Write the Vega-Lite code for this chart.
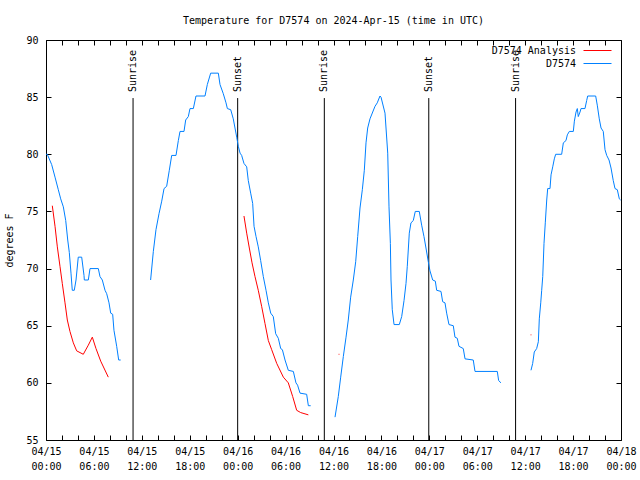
{
  "$schema": "https://vega.github.io/schema/vega-lite/v6.json",
  "width": 575,
  "height": 400,
  "autosize": {"type": "none"},
  "padding": {"left": 46, "top": 40, "right": 19, "bottom": 40},
  "background": "white",
  "title": {"text": "Temperature for D7574 on 2024-Apr-15 (time in UTC)", "font": "DejaVu Sans Mono", "fontSize": 10, "fontWeight": "normal", "color": "black", "baseline": "alphabetic", "offset": 1, "anchor": "middle"},
  "config": {
    "view": {"stroke": "black", "strokeWidth": 1},
    "axis": {"grid": false, "domain": false, "tickColor": "black", "labelColor": "black", "labelFont": "DejaVu Sans Mono", "labelFontSize": 10, "titleFont": "DejaVu Sans Mono", "titleFontSize": 10, "titleFontWeight": "normal", "titleColor": "black", "labelFlush": false, "labelOverlap": false},
    "text": {"font": "DejaVu Sans Mono"}
  },
  "datasets": {
    "sun": [
      {"hour": 10.9, "label": "Sunrise"},
      {"hour": 24.0, "label": "Sunset"},
      {"hour": 34.85, "label": "Sunrise"},
      {"hour": 47.93, "label": "Sunset"},
      {"hour": 58.8, "label": "Sunrise"}
    ],
    "temps": [
      {"series": "D7574", "seg": "b1", "hour": 0, "temp": 80.0},
      {"series": "D7574", "seg": "b1", "hour": 0.16, "temp": 80.0},
      {"series": "D7574", "seg": "b1", "hour": 0.71, "temp": 79.1},
      {"series": "D7574", "seg": "b1", "hour": 1.13, "temp": 78.0},
      {"series": "D7574", "seg": "b1", "hour": 1.54, "temp": 76.9},
      {"series": "D7574", "seg": "b1", "hour": 1.84, "temp": 76.1},
      {"series": "D7574", "seg": "b1", "hour": 2.17, "temp": 75.4},
      {"series": "D7574", "seg": "b1", "hour": 2.47, "temp": 74.2},
      {"series": "D7574", "seg": "b1", "hour": 2.72, "temp": 72.5},
      {"series": "D7574", "seg": "b1", "hour": 2.92, "temp": 71.4},
      {"series": "D7574", "seg": "b1", "hour": 3.13, "temp": 69.6},
      {"series": "D7574", "seg": "b1", "hour": 3.29, "temp": 68.1},
      {"series": "D7574", "seg": "b1", "hour": 3.54, "temp": 68.1},
      {"series": "D7574", "seg": "b1", "hour": 3.76, "temp": 69.0},
      {"series": "D7574", "seg": "b1", "hour": 4.04, "temp": 71.0},
      {"series": "D7574", "seg": "b1", "hour": 4.47, "temp": 71.0},
      {"series": "D7574", "seg": "b1", "hour": 4.76, "temp": 69.4},
      {"series": "D7574", "seg": "b1", "hour": 4.8, "temp": 69.0},
      {"series": "D7574", "seg": "b1", "hour": 5.3, "temp": 69.0},
      {"series": "D7574", "seg": "b1", "hour": 5.51, "temp": 70.0},
      {"series": "D7574", "seg": "b1", "hour": 6.55, "temp": 70.0},
      {"series": "D7574", "seg": "b1", "hour": 6.76, "temp": 69.3},
      {"series": "D7574", "seg": "b1", "hour": 7.05, "temp": 69.0},
      {"series": "D7574", "seg": "b1", "hour": 7.39, "temp": 68.1},
      {"series": "D7574", "seg": "b1", "hour": 7.6, "temp": 67.8},
      {"series": "D7574", "seg": "b1", "hour": 7.89, "temp": 67.0},
      {"series": "D7574", "seg": "b1", "hour": 8.1, "temp": 66.1},
      {"series": "D7574", "seg": "b1", "hour": 8.35, "temp": 66.0},
      {"series": "D7574", "seg": "b1", "hour": 8.51, "temp": 64.6},
      {"series": "D7574", "seg": "b1", "hour": 8.85, "temp": 63.2},
      {"series": "D7574", "seg": "b1", "hour": 9.1, "temp": 62.0},
      {"series": "D7574", "seg": "b1", "hour": 9.35, "temp": 62.0},

      {"series": "D7574 Analysis", "seg": "r1", "hour": 0.79, "temp": 75.5},
      {"series": "D7574 Analysis", "seg": "r1", "hour": 1.13, "temp": 73.7},
      {"series": "D7574 Analysis", "seg": "r1", "hour": 1.42, "temp": 71.9},
      {"series": "D7574 Analysis", "seg": "r1", "hour": 1.75, "temp": 70.2},
      {"series": "D7574 Analysis", "seg": "r1", "hour": 2.04, "temp": 68.7},
      {"series": "D7574 Analysis", "seg": "r1", "hour": 2.38, "temp": 67.0},
      {"series": "D7574 Analysis", "seg": "r1", "hour": 2.67, "temp": 65.5},
      {"series": "D7574 Analysis", "seg": "r1", "hour": 3.0, "temp": 64.5},
      {"series": "D7574 Analysis", "seg": "r1", "hour": 3.42, "temp": 63.5},
      {"series": "D7574 Analysis", "seg": "r1", "hour": 3.84, "temp": 62.8},
      {"series": "D7574 Analysis", "seg": "r1", "hour": 4.67, "temp": 62.5},
      {"series": "D7574 Analysis", "seg": "r1", "hour": 5.3, "temp": 63.3},
      {"series": "D7574 Analysis", "seg": "r1", "hour": 5.8, "temp": 64.0},
      {"series": "D7574 Analysis", "seg": "r1", "hour": 6.26, "temp": 63.0},
      {"series": "D7574 Analysis", "seg": "r1", "hour": 6.85, "temp": 61.9},
      {"series": "D7574 Analysis", "seg": "r1", "hour": 7.8, "temp": 60.5},

      {"series": "D7574", "seg": "b2", "hour": 13.1, "temp": 69.0},
      {"series": "D7574", "seg": "b2", "hour": 13.44, "temp": 71.5},
      {"series": "D7574", "seg": "b2", "hour": 13.77, "temp": 73.4},
      {"series": "D7574", "seg": "b2", "hour": 14.15, "temp": 74.8},
      {"series": "D7574", "seg": "b2", "hour": 14.49, "temp": 75.9},
      {"series": "D7574", "seg": "b2", "hour": 14.78, "temp": 77.0},
      {"series": "D7574", "seg": "b2", "hour": 15.11, "temp": 77.2},
      {"series": "D7574", "seg": "b2", "hour": 15.44, "temp": 78.6},
      {"series": "D7574", "seg": "b2", "hour": 15.74, "temp": 79.9},
      {"series": "D7574", "seg": "b2", "hour": 16.28, "temp": 79.9},
      {"series": "D7574", "seg": "b2", "hour": 16.57, "temp": 81.2},
      {"series": "D7574", "seg": "b2", "hour": 16.78, "temp": 82.0},
      {"series": "D7574", "seg": "b2", "hour": 17.28, "temp": 82.0},
      {"series": "D7574", "seg": "b2", "hour": 17.49, "temp": 83.0},
      {"series": "D7574", "seg": "b2", "hour": 17.82, "temp": 83.3},
      {"series": "D7574", "seg": "b2", "hour": 18.03, "temp": 84.0},
      {"series": "D7574", "seg": "b2", "hour": 18.45, "temp": 84.0},
      {"series": "D7574", "seg": "b2", "hour": 18.78, "temp": 85.1},
      {"series": "D7574", "seg": "b2", "hour": 19.91, "temp": 85.1},
      {"series": "D7574", "seg": "b2", "hour": 20.2, "temp": 86.1},
      {"series": "D7574", "seg": "b2", "hour": 20.62, "temp": 87.1},
      {"series": "D7574", "seg": "b2", "hour": 21.58, "temp": 87.1},
      {"series": "D7574", "seg": "b2", "hour": 21.79, "temp": 86.1},
      {"series": "D7574", "seg": "b2", "hour": 22.2, "temp": 85.3},
      {"series": "D7574", "seg": "b2", "hour": 22.54, "temp": 84.5},
      {"series": "D7574", "seg": "b2", "hour": 22.71, "temp": 84.0},
      {"series": "D7574", "seg": "b2", "hour": 23.13, "temp": 83.9},
      {"series": "D7574", "seg": "b2", "hour": 23.45, "temp": 83.1},
      {"series": "D7574", "seg": "b2", "hour": 23.88, "temp": 81.5},
      {"series": "D7574", "seg": "b2", "hour": 24.08, "temp": 80.7},
      {"series": "D7574", "seg": "b2", "hour": 24.3, "temp": 80.1},
      {"series": "D7574", "seg": "b2", "hour": 24.5, "temp": 79.9},
      {"series": "D7574", "seg": "b2", "hour": 24.79, "temp": 79.2},
      {"series": "D7574", "seg": "b2", "hour": 25.13, "temp": 78.9},
      {"series": "D7574", "seg": "b2", "hour": 25.33, "temp": 77.7},
      {"series": "D7574", "seg": "b2", "hour": 25.63, "temp": 76.6},
      {"series": "D7574", "seg": "b2", "hour": 25.88, "temp": 75.7},
      {"series": "D7574", "seg": "b2", "hour": 26.05, "temp": 73.7},
      {"series": "D7574", "seg": "b2", "hour": 26.3, "temp": 72.8},
      {"series": "D7574", "seg": "b2", "hour": 26.58, "temp": 71.9},
      {"series": "D7574", "seg": "b2", "hour": 26.88, "temp": 70.7},
      {"series": "D7574", "seg": "b2", "hour": 27.21, "temp": 69.3},
      {"series": "D7574", "seg": "b2", "hour": 27.55, "temp": 68.1},
      {"series": "D7574", "seg": "b2", "hour": 27.84, "temp": 67.0},
      {"series": "D7574", "seg": "b2", "hour": 28.14, "temp": 66.1},
      {"series": "D7574", "seg": "b2", "hour": 28.46, "temp": 65.8},
      {"series": "D7574", "seg": "b2", "hour": 28.76, "temp": 64.3},
      {"series": "D7574", "seg": "b2", "hour": 29.09, "temp": 63.9},
      {"series": "D7574", "seg": "b2", "hour": 29.39, "temp": 63.0},
      {"series": "D7574", "seg": "b2", "hour": 29.6, "temp": 62.9},
      {"series": "D7574", "seg": "b2", "hour": 29.93, "temp": 62.0},
      {"series": "D7574", "seg": "b2", "hour": 30.34, "temp": 61.1},
      {"series": "D7574", "seg": "b2", "hour": 30.97, "temp": 61.0},
      {"series": "D7574", "seg": "b2", "hour": 31.3, "temp": 60.0},
      {"series": "D7574", "seg": "b2", "hour": 31.5, "temp": 59.8},
      {"series": "D7574", "seg": "b2", "hour": 31.81, "temp": 59.1},
      {"series": "D7574", "seg": "b2", "hour": 32.64, "temp": 59.0},
      {"series": "D7574", "seg": "b2", "hour": 32.85, "temp": 58.0},
      {"series": "D7574", "seg": "b2", "hour": 33.14, "temp": 58.0},

      {"series": "D7574 Analysis", "seg": "r2", "hour": 24.79, "temp": 74.6},
      {"series": "D7574 Analysis", "seg": "r2", "hour": 25.13, "temp": 73.1},
      {"series": "D7574 Analysis", "seg": "r2", "hour": 25.46, "temp": 71.8},
      {"series": "D7574 Analysis", "seg": "r2", "hour": 25.8, "temp": 70.5},
      {"series": "D7574 Analysis", "seg": "r2", "hour": 26.17, "temp": 69.3},
      {"series": "D7574 Analysis", "seg": "r2", "hour": 26.58, "temp": 68.1},
      {"series": "D7574 Analysis", "seg": "r2", "hour": 27.0, "temp": 66.7},
      {"series": "D7574 Analysis", "seg": "r2", "hour": 27.42, "temp": 65.2},
      {"series": "D7574 Analysis", "seg": "r2", "hour": 27.84, "temp": 63.7},
      {"series": "D7574 Analysis", "seg": "r2", "hour": 28.26, "temp": 62.9},
      {"series": "D7574 Analysis", "seg": "r2", "hour": 28.89, "temp": 61.7},
      {"series": "D7574 Analysis", "seg": "r2", "hour": 29.72, "temp": 60.5},
      {"series": "D7574 Analysis", "seg": "r2", "hour": 30.34, "temp": 60.0},
      {"series": "D7574 Analysis", "seg": "r2", "hour": 30.89, "temp": 58.8},
      {"series": "D7574 Analysis", "seg": "r2", "hour": 31.39, "temp": 57.6},
      {"series": "D7574 Analysis", "seg": "r2", "hour": 31.89, "temp": 57.4},
      {"series": "D7574 Analysis", "seg": "r2", "hour": 32.85, "temp": 57.2},

      {"series": "D7574 Analysis", "seg": "r3", "hour": 36.64, "temp": 62.5},
      {"series": "D7574 Analysis", "seg": "r3", "hour": 36.74, "temp": 62.5},
      {"series": "D7574 Analysis", "seg": "r4", "hour": 60.68, "temp": 64.2},
      {"series": "D7574 Analysis", "seg": "r4", "hour": 60.78, "temp": 64.2},

      {"series": "D7574", "seg": "b3", "hour": 36.19, "temp": 57.0},
      {"series": "D7574", "seg": "b3", "hour": 36.6, "temp": 58.8},
      {"series": "D7574", "seg": "b3", "hour": 36.9, "temp": 60.5},
      {"series": "D7574", "seg": "b3", "hour": 37.23, "temp": 62.3},
      {"series": "D7574", "seg": "b3", "hour": 37.57, "temp": 64.0},
      {"series": "D7574", "seg": "b3", "hour": 37.85, "temp": 65.5},
      {"series": "D7574", "seg": "b3", "hour": 38.15, "temp": 67.5},
      {"series": "D7574", "seg": "b3", "hour": 38.48, "temp": 69.0},
      {"series": "D7574", "seg": "b3", "hour": 38.78, "temp": 70.6},
      {"series": "D7574", "seg": "b3", "hour": 39.03, "temp": 72.8},
      {"series": "D7574", "seg": "b3", "hour": 39.32, "temp": 75.3},
      {"series": "D7574", "seg": "b3", "hour": 39.61, "temp": 76.9},
      {"series": "D7574", "seg": "b3", "hour": 39.86, "temp": 78.6},
      {"series": "D7574", "seg": "b3", "hour": 40.07, "temp": 81.0},
      {"series": "D7574", "seg": "b3", "hour": 40.28, "temp": 82.3},
      {"series": "D7574", "seg": "b3", "hour": 40.57, "temp": 83.1},
      {"series": "D7574", "seg": "b3", "hour": 40.91, "temp": 83.7},
      {"series": "D7574", "seg": "b3", "hour": 41.2, "temp": 84.2},
      {"series": "D7574", "seg": "b3", "hour": 41.48, "temp": 84.5},
      {"series": "D7574", "seg": "b3", "hour": 41.82, "temp": 85.1},
      {"series": "D7574", "seg": "b3", "hour": 41.95, "temp": 85.0},
      {"series": "D7574", "seg": "b3", "hour": 42.45, "temp": 83.6},
      {"series": "D7574", "seg": "b3", "hour": 42.79, "temp": 80.1},
      {"series": "D7574", "seg": "b3", "hour": 42.95, "temp": 75.4},
      {"series": "D7574", "seg": "b3", "hour": 43.12, "temp": 72.2},
      {"series": "D7574", "seg": "b3", "hour": 43.2, "temp": 69.0},
      {"series": "D7574", "seg": "b3", "hour": 43.36, "temp": 66.4},
      {"series": "D7574", "seg": "b3", "hour": 43.58, "temp": 65.1},
      {"series": "D7574", "seg": "b3", "hour": 44.24, "temp": 65.1},
      {"series": "D7574", "seg": "b3", "hour": 44.54, "temp": 65.8},
      {"series": "D7574", "seg": "b3", "hour": 44.83, "temp": 67.2},
      {"series": "D7574", "seg": "b3", "hour": 45.08, "temp": 68.7},
      {"series": "D7574", "seg": "b3", "hour": 45.24, "temp": 70.2},
      {"series": "D7574", "seg": "b3", "hour": 45.49, "temp": 73.1},
      {"series": "D7574", "seg": "b3", "hour": 45.7, "temp": 74.0},
      {"series": "D7574", "seg": "b3", "hour": 45.99, "temp": 74.2},
      {"series": "D7574", "seg": "b3", "hour": 46.24, "temp": 75.0},
      {"series": "D7574", "seg": "b3", "hour": 46.74, "temp": 75.0},
      {"series": "D7574", "seg": "b3", "hour": 47.04, "temp": 73.8},
      {"series": "D7574", "seg": "b3", "hour": 47.33, "temp": 72.8},
      {"series": "D7574", "seg": "b3", "hour": 47.58, "temp": 71.8},
      {"series": "D7574", "seg": "b3", "hour": 47.87, "temp": 70.6},
      {"series": "D7574", "seg": "b3", "hour": 48.08, "temp": 69.8},
      {"series": "D7574", "seg": "b3", "hour": 48.42, "temp": 69.0},
      {"series": "D7574", "seg": "b3", "hour": 48.75, "temp": 68.9},
      {"series": "D7574", "seg": "b3", "hour": 48.92, "temp": 68.1},
      {"series": "D7574", "seg": "b3", "hour": 49.46, "temp": 68.0},
      {"series": "D7574", "seg": "b3", "hour": 49.67, "temp": 67.1},
      {"series": "D7574", "seg": "b3", "hour": 49.96, "temp": 67.0},
      {"series": "D7574", "seg": "b3", "hour": 50.17, "temp": 66.1},
      {"series": "D7574", "seg": "b3", "hour": 50.46, "temp": 65.1},
      {"series": "D7574", "seg": "b3", "hour": 51.0, "temp": 65.0},
      {"series": "D7574", "seg": "b3", "hour": 51.21, "temp": 64.0},
      {"series": "D7574", "seg": "b3", "hour": 51.5, "temp": 63.9},
      {"series": "D7574", "seg": "b3", "hour": 51.71, "temp": 63.2},
      {"series": "D7574", "seg": "b3", "hour": 52.25, "temp": 63.0},
      {"series": "D7574", "seg": "b3", "hour": 52.47, "temp": 62.1},
      {"series": "D7574", "seg": "b3", "hour": 53.5, "temp": 62.0},
      {"series": "D7574", "seg": "b3", "hour": 53.72, "temp": 61.0},
      {"series": "D7574", "seg": "b3", "hour": 56.51, "temp": 61.0},
      {"series": "D7574", "seg": "b3", "hour": 56.68, "temp": 60.2},
      {"series": "D7574", "seg": "b3", "hour": 56.97, "temp": 60.0},

      {"series": "D7574", "seg": "b4", "hour": 60.73, "temp": 61.1},
      {"series": "D7574", "seg": "b4", "hour": 60.94, "temp": 61.7},
      {"series": "D7574", "seg": "b4", "hour": 61.14, "temp": 62.7},
      {"series": "D7574", "seg": "b4", "hour": 61.44, "temp": 63.0},
      {"series": "D7574", "seg": "b4", "hour": 61.65, "temp": 63.6},
      {"series": "D7574", "seg": "b4", "hour": 61.77, "temp": 65.6},
      {"series": "D7574", "seg": "b4", "hour": 61.95, "temp": 67.0},
      {"series": "D7574", "seg": "b4", "hour": 62.07, "temp": 68.1},
      {"series": "D7574", "seg": "b4", "hour": 62.2, "temp": 69.3},
      {"series": "D7574", "seg": "b4", "hour": 62.36, "temp": 72.2},
      {"series": "D7574", "seg": "b4", "hour": 62.52, "temp": 74.0},
      {"series": "D7574", "seg": "b4", "hour": 62.7, "temp": 76.0},
      {"series": "D7574", "seg": "b4", "hour": 62.82, "temp": 77.0},
      {"series": "D7574", "seg": "b4", "hour": 63.11, "temp": 77.0},
      {"series": "D7574", "seg": "b4", "hour": 63.24, "temp": 78.2},
      {"series": "D7574", "seg": "b4", "hour": 63.45, "temp": 78.9},
      {"series": "D7574", "seg": "b4", "hour": 63.65, "temp": 79.6},
      {"series": "D7574", "seg": "b4", "hour": 63.82, "temp": 80.0},
      {"series": "D7574", "seg": "b4", "hour": 64.57, "temp": 80.0},
      {"series": "D7574", "seg": "b4", "hour": 64.78, "temp": 81.0},
      {"series": "D7574", "seg": "b4", "hour": 65.11, "temp": 81.2},
      {"series": "D7574", "seg": "b4", "hour": 65.28, "temp": 81.7},
      {"series": "D7574", "seg": "b4", "hour": 65.53, "temp": 82.0},
      {"series": "D7574", "seg": "b4", "hour": 66.03, "temp": 82.0},
      {"series": "D7574", "seg": "b4", "hour": 66.16, "temp": 82.9},
      {"series": "D7574", "seg": "b4", "hour": 66.37, "temp": 83.7},
      {"series": "D7574", "seg": "b4", "hour": 66.53, "temp": 84.0},
      {"series": "D7574", "seg": "b4", "hour": 66.65, "temp": 83.3},
      {"series": "D7574", "seg": "b4", "hour": 66.87, "temp": 83.7},
      {"series": "D7574", "seg": "b4", "hour": 66.99, "temp": 84.0},
      {"series": "D7574", "seg": "b4", "hour": 67.49, "temp": 84.0},
      {"series": "D7574", "seg": "b4", "hour": 67.7, "temp": 84.7},
      {"series": "D7574", "seg": "b4", "hour": 67.83, "temp": 85.1},
      {"series": "D7574", "seg": "b4", "hour": 68.83, "temp": 85.1},
      {"series": "D7574", "seg": "b4", "hour": 69.03, "temp": 84.3},
      {"series": "D7574", "seg": "b4", "hour": 69.28, "temp": 83.1},
      {"series": "D7574", "seg": "b4", "hour": 69.5, "temp": 82.3},
      {"series": "D7574", "seg": "b4", "hour": 69.78, "temp": 82.0},
      {"series": "D7574", "seg": "b4", "hour": 70.0, "temp": 80.4},
      {"series": "D7574", "seg": "b4", "hour": 70.21, "temp": 79.9},
      {"series": "D7574", "seg": "b4", "hour": 70.5, "temp": 79.5},
      {"series": "D7574", "seg": "b4", "hour": 70.75, "temp": 78.8},
      {"series": "D7574", "seg": "b4", "hour": 71.03, "temp": 77.7},
      {"series": "D7574", "seg": "b4", "hour": 71.25, "temp": 77.0},
      {"series": "D7574", "seg": "b4", "hour": 71.54, "temp": 76.9},
      {"series": "D7574", "seg": "b4", "hour": 71.79, "temp": 76.1},
      {"series": "D7574", "seg": "b4", "hour": 71.95, "temp": 76.0}
    ]
  },
  "layer": [
    {
      "data": {"name": "sun"},
      "mark": {"type": "rule", "color": "black", "strokeWidth": 1},
      "encoding": {
        "x": {"field": "hour", "type": "quantitative", "scale": {"domain": [0, 72], "nice": false, "zero": false},
              "axis": {"orient": "top", "labels": false, "title": null, "values": [0,2,4,6,8,10,12,14,16,18,20,22,24,26,28,30,32,34,36,38,40,42,44,46,48,50,52,54,56,58,60,62,64,66,68,70,72], "tickSize": -5}},
        "y": {"datum": 55, "type": "quantitative", "scale": {"domain": [55, 90], "nice": false, "zero": false},
              "axis": {"orient": "right", "labels": false, "title": null, "values": [55,60,65,70,75,80,85,90], "tickSize": -5}},
        "y2": {"datum": 84.92}
      }
    },
    {
      "data": {"name": "sun"},
      "mark": {"type": "text", "angle": 270, "align": "left", "baseline": "middle", "fontSize": 10, "color": "black"},
      "encoding": {
        "x": {"field": "hour", "type": "quantitative", "scale": {"domain": [0, 72], "nice": false, "zero": false}, "axis": null},
        "y": {"datum": 85.45, "type": "quantitative", "scale": {"domain": [55, 90], "nice": false, "zero": false}, "axis": null},
        "text": {"field": "label", "type": "nominal"}
      }
    },
    {
      "data": {"name": "temps"},
      "mark": {"type": "line", "strokeWidth": 1},
      "encoding": {
        "x": {"field": "hour", "type": "quantitative", "scale": {"domain": [0, 72], "nice": false, "zero": false},
              "axis": {"orient": "bottom", "title": null, "values": [0,2,4,6,8,10,12,14,16,18,20,22,24,26,28,30,32,34,36,38,40,42,44,46,48,50,52,54,56,58,60,62,64,66,68,70,72], "tickSize": -5, "labelPadding": 11, "labelLineHeight": 15, "labelBaseline": "top",
                       "labelExpr": "datum.value % 6 == 0 ? ['04/' + (15 + floor(datum.value / 24)), (datum.value % 24 < 10 ? '0' : '') + (datum.value % 24) + ':00'] : ''"}},
        "y": {"field": "temp", "type": "quantitative", "scale": {"domain": [55, 90], "nice": false, "zero": false},
              "axis": {"orient": "left", "title": "degrees F", "values": [55,60,65,70,75,80,85,90], "tickSize": -5, "labelPadding": 13, "titlePadding": 11}},
        "color": {"field": "series", "type": "nominal",
                  "scale": {"domain": ["D7574 Analysis", "D7574"], "range": ["#ff0000", "#0080ff"]},
                  "legend": {"orient": "none", "legendX": 544, "legendY": 3, "title": null, "symbolType": "M-2,0H2", "symbolSize": 196, "symbolStrokeWidth": 1, "labelAlign": "right", "labelOffset": -29, "labelFont": "DejaVu Sans Mono", "labelFontSize": 10, "labelColor": "black", "rowPadding": -1, "padding": 0}},
        "detail": {"field": "seg", "type": "nominal"}
      }
    }
  ]
}
